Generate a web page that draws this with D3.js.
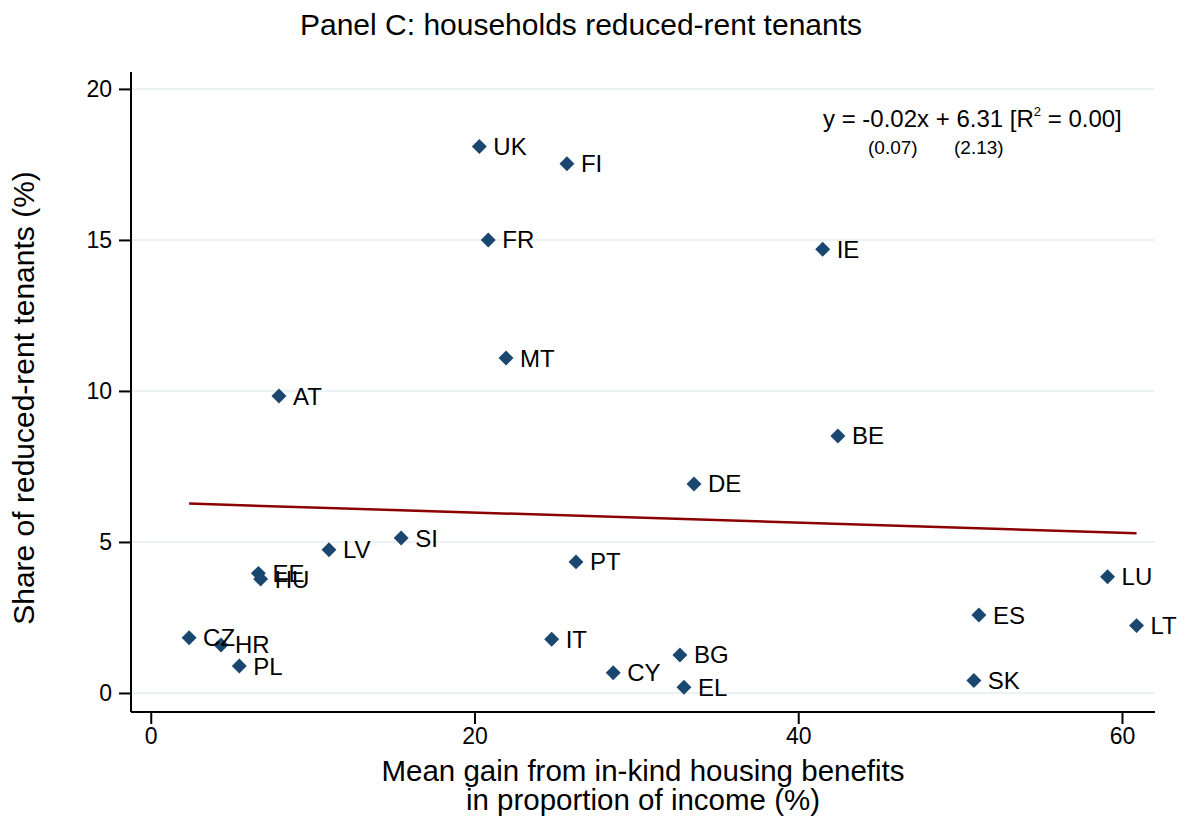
<!DOCTYPE html>
<html>
<head>
<meta charset="utf-8">
<script src="https://cdn.jsdelivr.net/npm/d3@7"></script>
<style>
  html, body { margin: 0; padding: 0; background: #fff; }
  svg { display: block; font-family: "Liberation Sans", Arial, sans-serif; }
</style>
</head>
<body>
<svg id="chart" width="1186" height="818"></svg>
<script>
// Country codes, mean gain from in-kind housing benefits (% of income),
// and share of reduced-rent tenants (%)
const countries = ["UK","FI","FR","IE","MT","AT","BE","DE","SI","LV","PT","EE","HU","LU","ES","LT","CZ","IT","HR","BG","PL","CY","SK","EL"];
const gainPct   = [20.30,25.71,20.85,41.51,21.95,7.92,42.45,33.56,15.47,11.01,26.27,6.65,6.79,59.11,51.16,60.90,2.37,24.77,4.34,32.69,5.47,28.57,50.85,32.94];
const sharePct  = [18.09,17.52,15.00,14.69,11.09,9.83,8.51,6.92,5.13,4.74,4.34,3.96,3.77,3.85,2.58,2.23,1.83,1.78,1.59,1.26,0.89,0.67,0.41,0.19];

const xTicks = [0, 20, 40, 60];
const yTicks = [0, 5, 10, 15, 20];

// Linear fit reported in the annotation
const fitSlope = -0.0168;
const fitIntercept = 6.31;
const fitText = "y = -0.02x + 6.31 [R";
const fitTextTail = " = 0.00]";
const seSlope = "(0.07)";
const seIntercept = "(2.13)";

const titleText = "Panel C: households reduced-rent tenants";
const yTitle = "Share of reduced-rent tenants (%)";
const xTitle = ["Mean gain from in-kind housing benefits", "in proportion of income (%)"];

const data = countries.map((c, i) => ({ c, x: gainPct[i], y: sharePct[i] }));

const svg = d3.select("#chart");
const plot = { left: 131, right: 1155, top: 72, bottom: 712 };

const x = d3.scaleLinear().domain([-1.22, 62.04]).range([plot.left, plot.right]);
const y = d3.scaleLinear().domain([-0.63, 20.56]).range([plot.bottom, plot.top]);

const navy = "#1a476f";
const maroon = "#8b0000";

// Horizontal grid lines
svg.append("g")
  .selectAll("line")
  .data(yTicks)
  .join("line")
  .attr("x1", plot.left).attr("x2", plot.right)
  .attr("y1", d => y(d)).attr("y2", d => y(d))
  .attr("stroke", "#eaf2f3")
  .attr("stroke-width", 2);

// Y axis
const yAxis = svg.append("g")
  .attr("transform", `translate(${plot.left},0)`)
  .call(d3.axisLeft(y).tickValues(yTicks).tickSize(12).tickPadding(7).tickSizeOuter(0));
yAxis.select(".domain").attr("stroke", "#000").attr("stroke-width", 2)
  .attr("d", `M0,${plot.bottom}V${plot.top}`);
yAxis.selectAll(".tick line").attr("stroke", "#000").attr("stroke-width", 2);
yAxis.selectAll(".tick text").attr("font-size", 23).attr("fill", "#000")
  .attr("font-family", "Liberation Sans, Arial, sans-serif");

// X axis
const xAxis = svg.append("g")
  .attr("transform", `translate(0,${plot.bottom})`)
  .call(d3.axisBottom(x).tickValues(xTicks).tickSize(12).tickPadding(4).tickSizeOuter(0));
xAxis.select(".domain").attr("stroke", "#000").attr("stroke-width", 2)
  .attr("d", `M${plot.left},0H${plot.right}`);
xAxis.selectAll(".tick line").attr("stroke", "#000").attr("stroke-width", 2);
xAxis.selectAll(".tick text").attr("font-size", 23).attr("fill", "#000")
  .attr("font-family", "Liberation Sans, Arial, sans-serif");

// Fitted line over the observed range of x
const xExt = d3.extent(gainPct);
const line = d3.line().x(d => x(d)).y(d => y(fitIntercept + fitSlope * d));
svg.append("path")
  .attr("d", line(xExt))
  .attr("fill", "none")
  .attr("stroke", maroon)
  .attr("stroke-width", 2.5);

// Diamond markers
const diamond = d3.symbol().type(d3.symbolSquare).size(112);
svg.append("g")
  .selectAll("path")
  .data(data)
  .join("path")
  .attr("d", diamond)
  .attr("transform", d => `translate(${x(d.x)},${y(d.y)}) rotate(45)`)
  .attr("fill", navy);

// Country labels
svg.append("g")
  .selectAll("text")
  .data(data)
  .join("text")
  .attr("x", d => x(d.x) + 14)
  .attr("y", d => y(d.y) + 8.5)
  .attr("font-size", 24)
  .attr("fill", "#000")
  .text(d => d.c);

// Fit equation
const eq = svg.append("text")
  .attr("x", 823).attr("y", 127)
  .attr("font-size", 24)
  .attr("fill", "#000");
eq.append("tspan").text(fitText);
eq.append("tspan").attr("font-size", 13).attr("dy", -11).text("2");
eq.append("tspan").attr("dy", 11).text(fitTextTail);

svg.append("text").attr("x", 868).attr("y", 154).attr("font-size", 19).text(seSlope);
svg.append("text").attr("x", 954).attr("y", 154).attr("font-size", 19).text(seIntercept);

// Title
svg.append("text")
  .attr("x", 581).attr("y", 35)
  .attr("text-anchor", "middle")
  .attr("font-size", 30)
  .text(titleText);

// Axis titles
svg.append("text")
  .attr("transform", `translate(34,${(plot.top + plot.bottom) / 2 + 6}) rotate(-90)`)
  .attr("text-anchor", "middle")
  .attr("font-size", 30)
  .text(yTitle);

svg.append("g")
  .selectAll("text")
  .data(xTitle)
  .join("text")
  .attr("x", (plot.left + plot.right) / 2)
  .attr("y", (d, i) => 781 + i * 28.5)
  .attr("text-anchor", "middle")
  .attr("font-size", 29.5)
  .text(d => d);
</script>
</body>
</html>
